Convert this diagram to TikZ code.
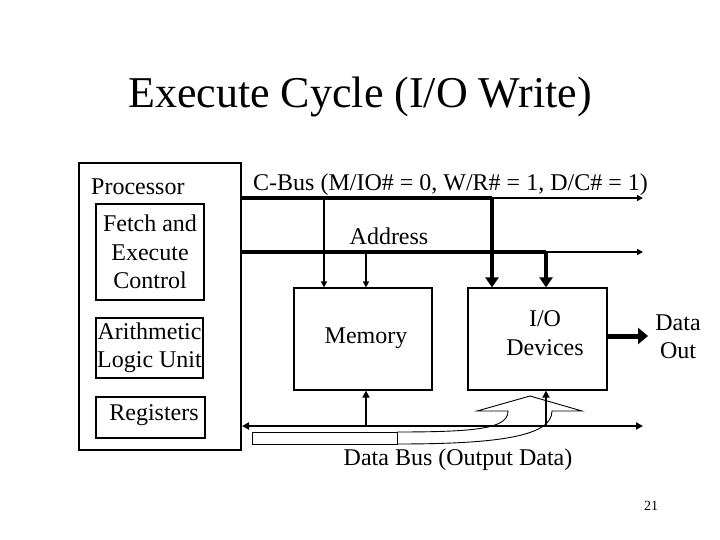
\documentclass[tikz,border=0pt]{standalone}
\usepackage{fontspec}
\setmainfont{Liberation Serif}
\usetikzlibrary{arrows.meta}
\begin{document}
\begin{tikzpicture}[x=1pt,y=-1pt,
  box/.style={draw, line width=1.2pt, inner sep=0pt},
  lbl/.style={font=\fontsize{24}{28.5}\selectfont, align=center, inner sep=0pt},
  busthick/.style={line width=4.5pt},
  busthin/.style={line width=1.8pt, -{Triangle[length=6pt,width=6pt]}},
  downthick/.style={line width=4.5pt, -{Triangle[length=10pt,width=13pt]}},
  databus/.style={line width=2.5pt},
  uparrow/.style={line width=2.5pt, -{Triangle[length=7pt,width=7pt]}},
  outline/.style={line width=0.9pt}
]
\useasboundingbox (0,0) rectangle (720,540);

% title
\node[font=\fontsize{44}{50}\selectfont, inner sep=0pt] (title) at (360,97) {Execute Cycle (I/O Write)};

% processor
\node[box, minimum width=162pt, minimum height=287pt] (proc) at (160,306.5) {};
\node[lbl, anchor=west] (proclbl) at (91,187) {Processor};
\node[box, minimum width=108pt, minimum height=96pt, lbl] (fetch) at (150,252) {Fetch and\\Execute\\Control};
\node[box, minimum width=107pt, minimum height=60pt, lbl] (alu) at (149.5,348) {Arithmetic\\Logic Unit};
\node[box, minimum width=109pt, minimum height=41pt] (reg) at (150.5,417.5) {};
\node[lbl] (reglbl) at (154,415) {Registers};

% memory and io
\node[box, minimum width=138pt, minimum height=102pt] (mem) at (363,339) {};
\node[lbl] (memlbl) at (366,338) {Memory};
\node[box, minimum width=139pt, minimum height=102pt] (io) at (537.5,339) {};
\node[lbl] (iolbl) at (545,333) {I/O\\Devices};
\node[lbl] (outlbl) at (678,337) {Data\\Out};

% C-bus
\coordinate (cbs) at (241,198);
\coordinate (cbj) at (492,198);
\coordinate (cbe) at (643,198);
\node[lbl, anchor=base west] (cblbl) at (253,191) {C-Bus (M/IO\# = 0, W/R\# = 1, D/C\# = 1)};
\draw[busthick] (cbs) -- (cbj);
\draw[busthin] (cbj) -- (cbe);

% Address bus
\coordinate (abs) at (241,252);
\coordinate (abj) at (546,252);
\coordinate (abe) at (643,252);
\node[lbl] (addrlbl) at (389,236) {Address};
\draw[busthick] (abs) -- (abj);
\draw[busthin] (abj) -- (abe);

% bus to memory
\coordinate (mc) at (324,198);
\coordinate (ma) at (366,252);
\draw[busthin] (mc) -- (mem.north -| mc);
\draw[busthin] (ma) -- (mem.north -| ma);
% bus to io
\draw[downthick] (cbj) -- (io.north -| cbj);
\draw[downthick] (abj) -- (io.north -| abj);

% data out
\coordinate (dout) at (648,336);
\draw[line width=5pt, -{Triangle[length=10pt,width=16pt]}] (io.east |- dout) -- (dout);

% data bus
\coordinate (dbs) at (242,426);
\coordinate (dbe) at (643,426);
\coordinate (dbm) at (366,426);
\coordinate (dbi) at (546,426);
\draw[databus, {Triangle[length=7pt,width=7pt]}-{Triangle[length=7pt,width=7pt]}] (dbs) -- (dbe);
\draw[uparrow] (dbm) -- (mem.south -| dbm);

% curved up arrow (output data)
\draw[outline] (252,432) rectangle (397,444);
\draw[outline] (397,432) .. controls (480,432) and (508,428) .. (508,411)
  -- (477,411) -- (530,396) -- (582,411) -- (552,411)
  .. controls (552,436) and (500,444) .. (397,444);
\draw[uparrow] (dbi) -- (io.south -| dbi);

\node[lbl] (dblbl) at (458,460) {Data Bus (Output Data)};

\node[font=\fontsize{14}{16}\selectfont, inner sep=0pt] (pg) at (651,506) {21};
\end{tikzpicture}
\end{document}
